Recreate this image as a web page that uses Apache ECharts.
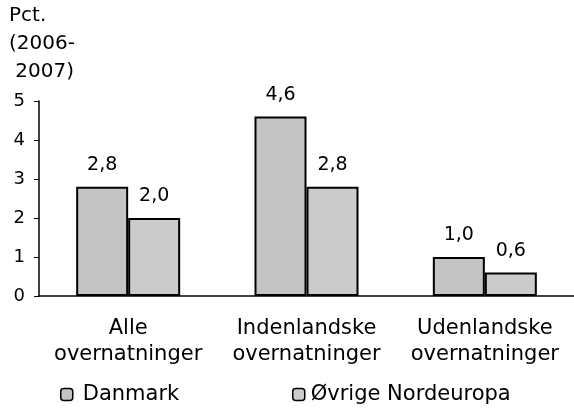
<!DOCTYPE html>
<html><head><meta charset="utf-8">
<script src="https://cdn.jsdelivr.net/npm/echarts@6/dist/echarts.min.js"></script>
<style>html,body{margin:0;padding:0;background:#fff}#c{width:574px;height:409px}</style>
</head><body><div id="c"></div>
<script>
const categories = ['Alle\novernatninger', 'Indenlandske\novernatninger', 'Udenlandske\novernatninger'];
const danmark = [2.8, 4.6, 1.0];
const ovrige = [2.0, 2.8, 0.6];
const seriesNames = ['Danmark', 'Øvrige Nordeuropa'];
const yTicks = [0, 1, 2, 3, 4, 5];

const font = 'DejaVu Sans';
const chart = echarts.init(document.getElementById('c'));
const lbl = {show: true, position: 'top', distance: 12, color: '#000', fontFamily: font, fontSize: 19,
  formatter: p => p.value.toFixed(1).replace('.', ',')};
const legendBase = {top: 384, padding: 0, itemWidth: 12, itemHeight: 12, itemGap: 10,
  textStyle: {fontFamily: font, fontSize: 21, color: '#000', padding: [0, 0, 0, 5]},
  itemStyle: {borderColor: '#000', borderWidth: 1.5}};
chart.setOption({
  animation: false,
  title: {text: 'Pct.\n(2006-\n 2007)', left: 9, top: 2, padding: 0,
    textStyle: {fontFamily: font, fontSize: 20, fontWeight: 'normal', color: '#000', lineHeight: 28}},
  legend: [
    Object.assign({}, legendBase, {left: 60, data: [seriesNames[0]]}),
    Object.assign({}, legendBase, {left: 292, data: [seriesNames[1]],
      textStyle: Object.assign({}, legendBase.textStyle, {padding: [0, 0, 0, 1]})})
  ],
  grid: {left: 39, width: 542, top: 101, bottom: 113, containLabel: false},
  xAxis: {type: 'category', data: categories,
    axisLine: {lineStyle: {color: '#000', width: 1.5}}, axisTick: {show: false},
    axisLabel: {fontFamily: font, fontSize: 21, color: '#000', lineHeight: 26, margin: 20, interval: 0}},
  yAxis: {type: 'value', min: 0, max: 5, interval: 1,
    axisLine: {show: true, lineStyle: {color: '#000', width: 1.5}},
    axisTick: {show: true, length: 5, lineStyle: {color: '#000'}},
    splitLine: {show: false},
    axisLabel: {fontFamily: font, fontSize: 18, color: '#000', margin: 14,
      formatter: v => yTicks.includes(v) ? String(v) : ''}},
  series: [
    {name: seriesNames[0], type: 'bar', data: danmark, barWidth: 52, barGap: '0%',
      itemStyle: {color: '#c4c4c4', borderColor: '#000', borderWidth: 2}, label: lbl},
    {name: seriesNames[1], type: 'bar', data: ovrige, barWidth: 52,
      itemStyle: {color: '#cbcbcb', borderColor: '#000', borderWidth: 2}, label: lbl}
  ]
});
</script></body></html>
